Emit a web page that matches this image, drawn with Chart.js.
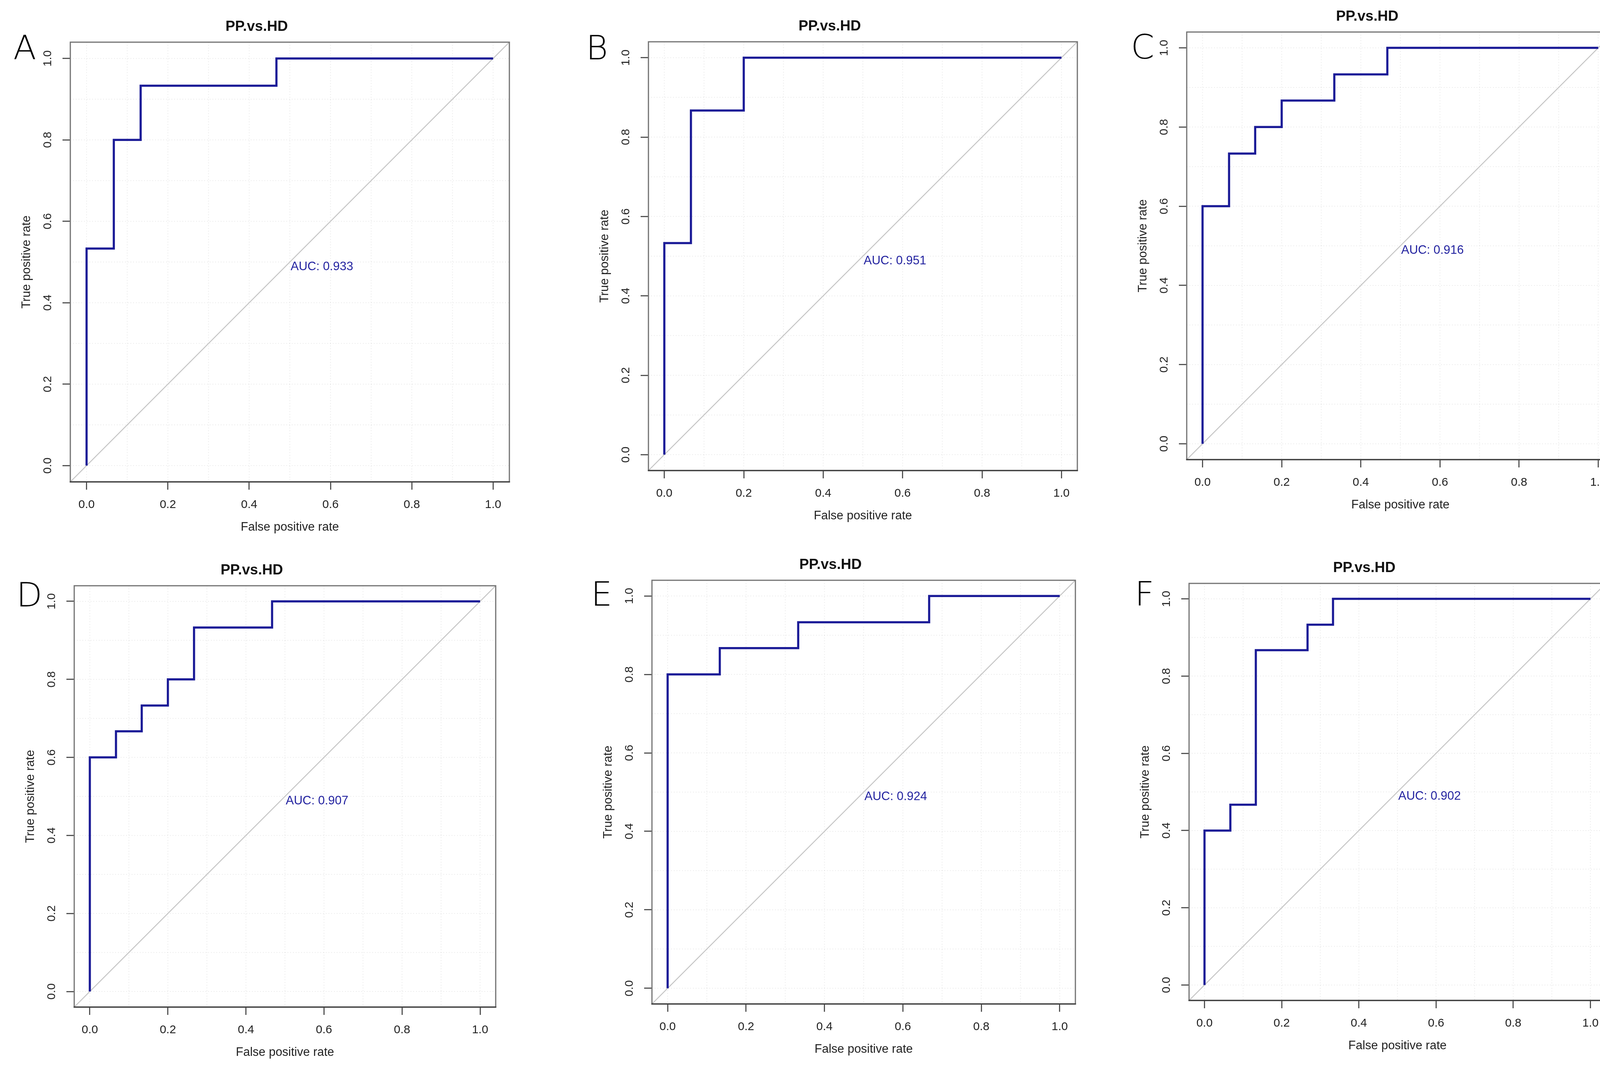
<!DOCTYPE html>
<html>
<head>
<meta charset="utf-8">
<script src="https://cdn.jsdelivr.net/npm/chart.js@4.4.1/dist/chart.umd.min.js"></script>
<style>
  html, body { margin: 0; padding: 0; background: #fff; }
  #page { position: relative; width: 4168px; height: 2735px; overflow: hidden; background: #fff; }
  #page canvas { position: absolute; }
</style>
</head>
<body>
<div id="page"></div>
<script>
// six ROC panels, same comparison each time
var panelLetters = ["A", "B", "C", "D", "E", "F"];
var panelTitles = ["PP.vs.HD", "PP.vs.HD", "PP.vs.HD", "PP.vs.HD", "PP.vs.HD", "PP.vs.HD"];
var aucValues = [0.933, 0.951, 0.916, 0.907, 0.924, 0.902];

// curve corners (false positive rate, true positive rate)
var fprA = [0, 0, 0.067, 0.067, 0.133, 0.133, 0.467, 0.467, 1];
var tprA = [0, 0.533, 0.533, 0.8, 0.8, 0.933, 0.933, 1, 1];
var fprB = [0, 0, 0.067, 0.067, 0.2, 0.2, 1];
var tprB = [0, 0.533, 0.533, 0.867, 0.867, 1, 1];
var fprC = [0, 0, 0.067, 0.067, 0.133, 0.133, 0.2, 0.2, 0.333, 0.333, 0.467, 0.467, 1];
var tprC = [0, 0.6, 0.6, 0.733, 0.733, 0.8, 0.8, 0.867, 0.867, 0.933, 0.933, 1, 1];
var fprD = [0, 0, 0.067, 0.067, 0.133, 0.133, 0.2, 0.2, 0.267, 0.267, 0.467, 0.467, 1];
var tprD = [0, 0.6, 0.6, 0.667, 0.667, 0.733, 0.733, 0.8, 0.8, 0.933, 0.933, 1, 1];
var fprE = [0, 0, 0.133, 0.133, 0.333, 0.333, 0.667, 0.667, 1];
var tprE = [0, 0.8, 0.8, 0.867, 0.867, 0.933, 0.933, 1, 1];
var fprF = [0, 0, 0.067, 0.067, 0.133, 0.133, 0.267, 0.267, 0.333, 0.333, 1];
var tprF = [0, 0.4, 0.4, 0.467, 0.467, 0.867, 0.867, 0.933, 0.933, 1, 1];

var axisTicks = [0, 0.2, 0.4, 0.6, 0.8, 1.0];
var gridSteps = [0, 0.1, 0.2, 0.3, 0.4, 0.5, 0.6, 0.7, 0.8, 0.9, 1.0];
var axisMin = -0.04;
var axisMax = 1.04;
var chanceX = [-0.04, 1.04];
var chanceY = [-0.04, 1.04];

var fprAll = [fprA, fprB, fprC, fprD, fprE, fprF];
var tprAll = [tprA, tprB, tprC, tprD, tprE, tprF];

// plot boxes on the page: left, top, width, height
var boxes = [
  [180, 108, 1124, 1126],
  [1660, 107, 1098, 1098],
  [3038, 82, 1094, 1095],
  [190, 1500, 1079, 1079],
  [1669, 1486, 1084, 1085],
  [3044, 1494, 1067, 1068]
];
// panel letter: left, baseline
var letterPos = [[34, 152], [1500, 152], [2895, 150], [42, 1553], [1513, 1551], [2905, 1551]];

var FONT = "'Liberation Sans', Arial, Helvetica, sans-serif";
var LETTER_FONT = "200 86px 'DejaVu Sans', sans-serif";
var PAD_L = 170, PAD_T = 110, PAD_R = 15, PAD_B = 160;

var rStyle = {
  id: "rStyle",
  beforeDatasetsDraw: function (chart) {
    var ctx = chart.ctx, a = chart.chartArea;
    var xs = chart.scales.x, ys = chart.scales.y;
    ctx.save();
    ctx.strokeStyle = "rgba(0,0,0,0.09)";
    ctx.lineWidth = 2;
    ctx.setLineDash([2, 5]);
    gridSteps.forEach(function (v) {
      var px = xs.getPixelForValue(v);
      ctx.beginPath(); ctx.moveTo(px, a.top); ctx.lineTo(px, a.bottom); ctx.stroke();
      var py = ys.getPixelForValue(v);
      ctx.beginPath(); ctx.moveTo(a.left, py); ctx.lineTo(a.right, py); ctx.stroke();
    });
    ctx.restore();
  },
  afterDraw: function (chart, args, opts) {
    var ctx = chart.ctx, a = chart.chartArea;
    var xs = chart.scales.x, ys = chart.scales.y;
    ctx.save();
    // frame
    ctx.lineWidth = 3;
    ctx.strokeStyle = "#727272";
    ctx.strokeRect(a.left, a.top, a.right - a.left, a.bottom - a.top);
    ctx.strokeStyle = "#3a3a3a";
    ctx.beginPath(); ctx.moveTo(a.left - 1.5, a.bottom); ctx.lineTo(a.right + 1.5, a.bottom); ctx.stroke();
    // y tick labels, parallel to the axis
    ctx.fillStyle = "#222";
    ctx.font = "30px " + FONT;
    ctx.textAlign = "center";
    ctx.textBaseline = "middle";
    ys.ticks.forEach(function (t) {
      ctx.save();
      ctx.translate(a.left - 57, ys.getPixelForValue(t.value));
      ctx.rotate(-Math.PI / 2);
      ctx.fillText(Number(t.value).toFixed(1), 0, 0);
      ctx.restore();
    });
    // AUC
    ctx.fillStyle = "#2323a0";
    ctx.font = "31px " + FONT;
    ctx.textAlign = "left";
    ctx.fillText("AUC: " + opts.auc.toFixed(3), xs.getPixelForValue(0.5) + 2, ys.getPixelForValue(0.488));
    // panel letter
    ctx.fillStyle = "#000";
    ctx.font = LETTER_FONT;
    ctx.textBaseline = "alphabetic";
    ctx.fillText(opts.letter, opts.lx, opts.ly);
    ctx.restore();
  }
};

var page = document.getElementById("page");

panelLetters.forEach(function (letter, i) {
  var b = boxes[i];
  var cv = document.createElement("canvas");
  var cw = b[2] + PAD_L + PAD_R, ch = b[3] + PAD_T + PAD_B;
  cv.width = cw; cv.height = ch;
  cv.style.width = cw + "px"; cv.style.height = ch + "px";
  cv.style.left = (b[0] - PAD_L) + "px";
  cv.style.top = (b[1] - PAD_T) + "px";
  page.appendChild(cv);

  var roc = fprAll[i].map(function (x, k) { return { x: x, y: tprAll[i][k] }; });
  var chance = chanceX.map(function (x, k) { return { x: x, y: chanceY[k] }; });

  new Chart(cv.getContext("2d"), {
    type: "line",
    data: {
      datasets: [
        { label: "ROC", data: roc, borderColor: "#1b1b97", borderWidth: 5.5, pointRadius: 0, tension: 0, fill: false },
        { label: "chance", data: chance, borderColor: "#c6c6c6", borderWidth: 2.5, pointRadius: 0, tension: 0, fill: false }
      ]
    },
    options: {
      responsive: false,
      animation: false,
      devicePixelRatio: 1,
      events: [],
      layout: { padding: { top: PAD_T - 58, right: PAD_R, left: 0, bottom: 0 } },
      plugins: {
        legend: { display: false },
        tooltip: { enabled: false },
        title: {
          display: true,
          text: panelTitles[i],
          color: "#111",
          font: { family: FONT, size: 37, weight: "bold", lineHeight: 1 },
          padding: { top: 0, bottom: 21 }
        },
        rStyle: {
          auc: aucValues[i],
          letter: letter,
          lx: letterPos[i][0] - (b[0] - PAD_L),
          ly: letterPos[i][1] - (b[1] - PAD_T)
        }
      },
      scales: {
        x: {
          type: "linear",
          min: axisMin,
          max: axisMax,
          afterBuildTicks: function (s) { s.ticks = axisTicks.map(function (v) { return { value: v }; }); },
          afterFit: function (s) { s.height = PAD_B; },
          ticks: {
            color: "#222",
            font: { family: FONT, size: 30 },
            padding: 21,
            maxRotation: 0,
            autoSkip: false,
            callback: function (v) { return Number(v).toFixed(1); }
          },
          grid: { display: true, drawOnChartArea: false, drawTicks: true, tickLength: 20, tickWidth: 3, tickColor: "#555" },
          border: { display: false },
          title: {
            display: true,
            text: "False positive rate",
            color: "#222",
            font: { family: FONT, size: 31, lineHeight: 1 },
            padding: { top: 0, bottom: 28.5 }
          }
        },
        y: {
          type: "linear",
          position: "left",
          min: axisMin,
          max: axisMax,
          afterBuildTicks: function (s) { s.ticks = axisTicks.map(function (v) { return { value: v }; }); },
          afterFit: function (s) { s.width = PAD_L; },
          ticks: { display: false },
          grid: { display: true, drawOnChartArea: false, drawTicks: true, tickLength: 20, tickWidth: 3, tickColor: "#555" },
          border: { display: false },
          title: {
            display: true,
            text: "True positive rate",
            color: "#222",
            font: { family: FONT, size: 31, lineHeight: 1 },
            padding: { top: 42.5, bottom: 0 }
          }
        }
      }
    },
    plugins: [rStyle]
  });
});
</script>
</body>
</html>
